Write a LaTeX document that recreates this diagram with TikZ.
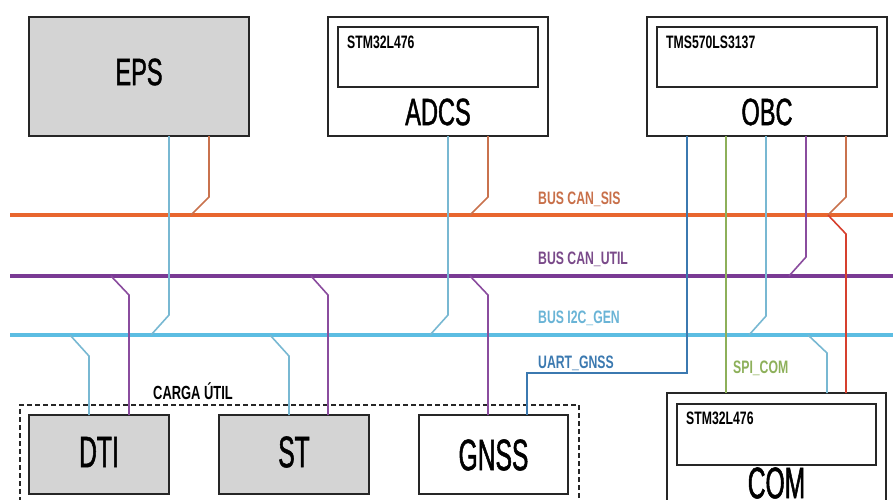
\documentclass[tikz,border=0pt]{standalone}
\usepackage{fontspec}
\newfontfamily\cf[FakeStretch=0.62,FakeBold=1.2]{Liberation Sans}
\newfontfamily\cfb[FakeStretch=0.56,FakeBold=1.2]{Liberation Sans}
\newfontfamily\cfs[FakeStretch=0.68]{Liberation Sans Bold}
\definecolor{cansis}{HTML}{E8662E}
\definecolor{cansisw}{HTML}{C9724E}
\definecolor{canutil}{HTML}{7A3A94}
\definecolor{canutilw}{HTML}{8A4C9E}
\definecolor{itc}{HTML}{5CBDE2}
\definecolor{itcw}{HTML}{78B8D2}
\definecolor{uart}{HTML}{3B79B0}
\definecolor{spi}{HTML}{8DB05A}
\definecolor{comred}{HTML}{D6402E}
\definecolor{boxgray}{HTML}{D4D4D4}
\definecolor{lblsis}{HTML}{C8704A}
\definecolor{lblutil}{HTML}{7A4A8A}
\definecolor{lblitc}{HTML}{6AB4D6}
\begin{document}
\begin{tikzpicture}[x=1pt,y=-1pt,
  box/.style={draw=black!85, line width=1.8pt, inner sep=0pt, outer sep=0pt},
  graybox/.style={box, fill=boxgray},
  chip/.style={draw=black!85, line width=1.5pt, inner sep=0pt, outer sep=0pt},
  big/.style={font=\cf\fontsize{38}{38}\selectfont, inner sep=0pt},
  bigger/.style={font=\cfb\fontsize{44}{44}\selectfont, inner sep=0pt},
  small/.style={font=\cfs\fontsize{18}{18}\selectfont, anchor=west, inner sep=0pt},
  bus/.style={draw=gray!30, line width=0.7pt, double distance=3.2pt},
  wire/.style={line width=1.6pt, line join=miter}]
\useasboundingbox (0,0) rectangle (893,499);
\clip (0,0) rectangle (893,499);

% boxes
\node[graybox, minimum width=220pt, minimum height=119pt] (eps) at (139,76.5) {};
\node[big] (epsl) at (139,72) {EPS};

\node[box, fill=white, minimum width=220pt, minimum height=119pt] (adcs) at (438,76.5) {};
\node[chip, minimum width=200pt, minimum height=60pt] (adcsc) at (438,57) {};
\node[small] (adcst) at (347,42) {STM32L476};
\node[big] (adcsl) at (438,112) {ADCS};

\node[box, fill=white, minimum width=240pt, minimum height=119pt] (obc) at (767,76.5) {};
\node[chip, minimum width=220pt, minimum height=60pt] (obcc) at (767,57) {};
\node[small] (obct) at (666,42) {TMS570LS3137};
\node[big] (obcl) at (767,112) {OBC};

\node[box, fill=white, minimum width=219pt, minimum height=130pt] (com) at (776.5,458) {};
\node[chip, minimum width=199pt, minimum height=61pt] (comc) at (776.5,434.5) {};
\node[small] (comt) at (686,418) {STM32L476};
\node[bigger] (coml) at (776.5,483) {COM};

\node[draw=black!85, line width=1.4pt, dash pattern=on 5pt off 3pt, minimum width=559pt, minimum height=110pt, inner sep=0pt] (carga) at (299.5,460) {};
\node[small, font=\cfs\fontsize{19}{19}\selectfont] (cargal) at (153,391) {CARGA ÚTIL};

\node[graybox, minimum width=140pt, minimum height=79pt] (dti) at (99,454.5) {};
\node[bigger] (dtil) at (99,452) {DTI};
\node[graybox, minimum width=150pt, minimum height=79pt] (st) at (294,454.5) {};
\node[bigger] (stl) at (294,452) {ST};
\node[box, fill=white, minimum width=149pt, minimum height=79pt] (gnss) at (493.5,454.5) {};
\node[bigger] (gnssl) at (493.5,455) {GNSS};

% buses
\coordinate (sisL) at (10,215); \coordinate (sisR) at (900,215);
\coordinate (utilL) at (10,276); \coordinate (utilR) at (900,276);
\coordinate (itcL) at (10,335); \coordinate (itcR) at (900,335);
\draw[bus, double=cansis] (sisL) -- (sisR);
\draw[bus, double=canutil] (utilL) -- (utilR);
\draw[bus, double=itc] (itcL) -- (itcR);

% bus labels
\node[small, text=lblsis] (lsis) at (538,199) {BUS CAN\_SIS};
\node[small, text=lblutil] (lutil) at (538,259) {BUS CAN\_UTIL};
\node[small, text=lblitc] (litc) at (538,318) {BUS I2C\_GEN};
\node[small, text=uart] (luart) at (538,363) {UART\_GNSS};
\node[small, text=spi] (lspi) at (733,368) {SPI\_COM};

% bus tap points
\coordinate (t1) at (151,335); \coordinate (t2) at (191,215);
\coordinate (t3) at (430,335); \coordinate (t4) at (470,215);
\coordinate (t7) at (749,335); \coordinate (t8) at (789,276);
\coordinate (t9) at (828,215); \coordinate (t11) at (808,335);
\coordinate (t12) at (70,335); \coordinate (t13) at (111,276);
\coordinate (t14) at (270,335); \coordinate (t15) at (311,276);
\coordinate (t16) at (470,276);

% connectors
\draw[wire, itcw] (eps.south -| 169,0) -- (169,315) -- (t1);
\draw[wire, cansisw] (eps.south -| 209,0) -- (209,197) -- (t2);
\draw[wire, itcw] (adcs.south -| 448,0) -- (448,315) -- (t3);
\draw[wire, cansisw] (adcs.south -| 488,0) -- (488,197) -- (t4);
\draw[wire, uart] (obc.south -| 687,0) -- (687,373) -- (527,373) -- (gnss.north -| 527,0);
\draw[wire, spi] (obc.south -| 726,0) -- (com.north -| 726,0);
\draw[wire, itcw] (obc.south -| 766,0) -- (766,316) -- (t7);
\draw[wire, canutilw] (obc.south -| 806,0) -- (806,257) -- (t8);
\draw[wire, cansisw] (obc.south -| 846,0) -- (846,197) -- (t9);
\draw[wire, comred] (t9) -- (846,234) -- (com.north -| 846,0);
\draw[wire, itcw] (t11) -- (827,353) -- (com.north -| 827,0);
\draw[wire, itcw] (t12) -- (89,356) -- (dti.north -| 89,0);
\draw[wire, canutilw] (t13) -- (129,295) -- (dti.north -| 129,0);
\draw[wire, itcw] (t14) -- (289,356) -- (st.north -| 289,0);
\draw[wire, canutilw] (t15) -- (328,295) -- (st.north -| 328,0);
\draw[wire, canutilw] (t16) -- (488,295) -- (gnss.north -| 488,0);
\end{tikzpicture}
\end{document}
